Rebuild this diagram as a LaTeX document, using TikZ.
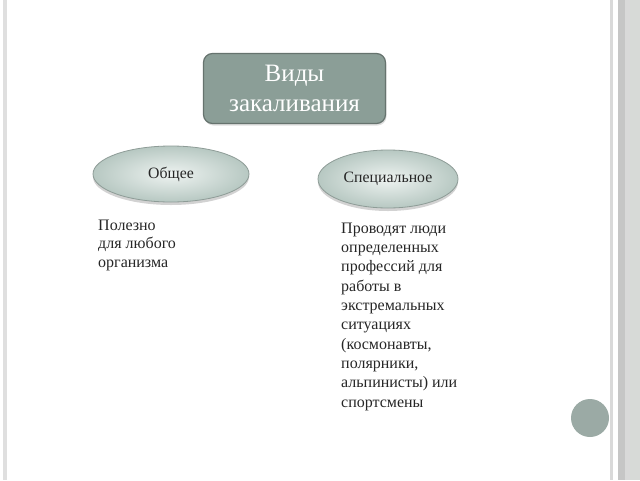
\documentclass[tikz,border=0pt]{standalone}
\usepackage{fontspec}
\setmainfont{Liberation Serif}
\usetikzlibrary{shadows,shapes.geometric}
\definecolor{boxfill}{HTML}{8B9E97}
\definecolor{boxedge}{HTML}{66736E}
\definecolor{ellin}{HTML}{EEF3F1}
\definecolor{ellout}{HTML}{B7C8C2}
\definecolor{elledge}{HTML}{8E9C97}
\definecolor{txt}{HTML}{262626}
\definecolor{dotc}{HTML}{9BAAA5}
\begin{document}
\begin{tikzpicture}[x=1pt,y=-1pt,
  titlebox/.style={draw=boxedge,line width=1.2pt,fill=boxfill,rounded corners=9pt,
    minimum width=182pt,minimum height=70pt,align=center,text=white,inner sep=0pt,
    font=\fontsize{25}{30}\selectfont,drop shadow={opacity=0.25,shadow xshift=1pt,shadow yshift=-2pt}},
  kind/.style={draw=elledge,line width=0.8pt,inner color=ellin,outer color=ellout,
    drop shadow={opacity=0.35,shadow xshift=0pt,shadow yshift=-3pt}},
  kindtext/.style={text=txt,font=\fontsize{15.8}{18}\selectfont},
  body/.style={anchor=base west,inner sep=0pt,align=left,text=txt}]
\useasboundingbox (0,0) rectangle (640,480);
\fill[white] (0,0) rectangle (640,480);
% left border
\fill[gray!25] (3,0) rectangle (7,480);
% right border
\fill[gray!30] (610,0) rectangle (613,480);
\fill[gray!45] (618,0) rectangle (625,480);
\fill[gray!30] (625,0) rectangle (630,480);
\fill[black!10!green!5!gray!30] (630,0) rectangle (640,480);
% dot
\fill[dotc] (590,418) circle (19);
% title
\node[titlebox] (title) at (294.5,88.5) {Виды\\закаливания};
% ellipses
\path[kind] (171,174) ellipse (78 and 28);
\node[kindtext] (gen) at (171,174) {Общее};
\path[kind] (388,179) ellipse (70 and 29);
\node[kindtext] (spec) at (388,179) {Специальное};
% texts
\node[body,font=\fontsize{16}{18.5}\selectfont] (gentext) at (98,267) {Полезно\\для любого\\организма};
\node[body,font=\fontsize{16}{19.3}\selectfont] (spectext) at (341,407) {Проводят люди\\определенных\\профессий для\\работы в\\экстремальных\\ситуациях\\(космонавты,\\полярники,\\альпинисты) или\\спортсмены};
\end{tikzpicture}
\end{document}
